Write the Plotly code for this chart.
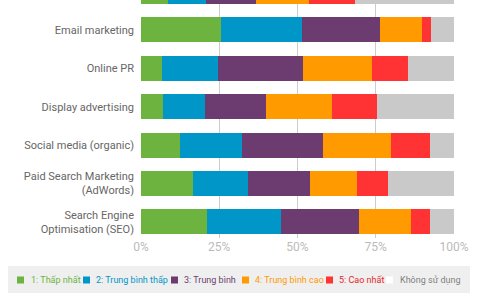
import plotly.graph_objects as go

categories = ["Search Engine<br>Optimisation (SEO)", "Paid Search Marketing<br>(AdWords)",
              "Social media (organic)", "Display advertising", "Online PR",
              "Email marketing", "Content marketing"]
series_names = ["1: Thấp nhất", "2: Trung bình thấp", "3: Trung bình",
                "4: Trung bình cao", "5: Cao nhất", "Không sử dụng"]
values = {
    "1: Thấp nhất":       [21.0, 16.5, 12.3, 6.9, 6.7, 25.7, 8.6],
    "2: Trung bình thấp": [23.7, 17.8, 20.0, 13.6, 18.0, 25.7, 12.3],
    "3: Trung bình":      [25.1, 19.6, 25.8, 19.5, 27.1, 24.8, 15.8],
    "4: Trung bình cao":  [16.4, 15.0, 21.8, 21.1, 21.9, 13.5, 16.9],
    "5: Cao nhất":        [6.0, 10.0, 12.3, 14.2, 11.6, 2.9, 14.8],
    "Không sử dụng":      [7.8, 21.1, 7.8, 24.7, 14.7, 7.4, 31.6],
}
tick_vals = [0, 25, 50, 75, 100]
tick_text = ["0%", "25%", "50%", "75%", "100%"]

colors = ["#6db33f", "#0096c8", "#6c3b6f", "#ff9a00", "#ff3333", "#c9c9c9"]
legend_text_colors = ["#6db33f", "#0096c8", "#6c3b6f", "#ff9a00", "#e8262a", "#808080"]
legend_marker_colors = ["#6db33f", "#0096c8", "#6c3b6f", "#ff9a00", "#ff3333", "#ffffff"]

FONT = "Roboto, sans-serif"

# layout geometry (pixels)
W, H = 480, 300
ML, MR, MT, MB = 141, 26, 0, 62
PW, PH = W - ML - MR, H - MT - MB


def px_x(px):
    return (px - ML) / PW


def px_y(py):
    return (H - MB - py) / PH


legend_square_x = [17, 83, 171, 242, 326, 386]
legend_text_x = [29, 94, 182, 253, 336.5, 397.5]
legend_y = 280

fig = go.Figure()
for i, name in enumerate(series_names):
    fig.add_trace(go.Bar(
        y=categories, x=values[name], orientation="h",
        name=name, marker=dict(color=colors[i], line=dict(width=0)),
        showlegend=False,
    ))

shapes = [dict(type="rect", xref="paper", yref="paper",
               x0=px_x(8), x1=px_x(470), y0=px_y(266), y1=px_y(293),
               fillcolor="#efefef", line=dict(width=0), layer="below")]
annotations = []
for i, name in enumerate(series_names):
    sx = legend_square_x[i]
    shapes.append(dict(type="rect", xref="paper", yref="paper",
                       x0=px_x(sx), x1=px_x(sx + 7),
                       y0=px_y(legend_y - 3.5), y1=px_y(legend_y + 3.5),
                       fillcolor=legend_marker_colors[i], line=dict(width=0)))
    annotations.append(dict(text=name, xref="paper", yref="paper",
                            x=px_x(legend_text_x[i]), y=px_y(legend_y),
                            xanchor="left", yanchor="middle", showarrow=False,
                            font=dict(family=FONT, size=9, color=legend_text_colors[i])))

fig.update_layout(
    barmode="stack",
    bargap=0.35,
    width=W, height=H,
    margin=dict(l=ML, r=MR, t=MT, b=MB, autoexpand=False),
    showlegend=False,
    paper_bgcolor="white", plot_bgcolor="white",
    font=dict(family=FONT, color="#666666", size=11),
    xaxis=dict(range=[0, 100], tickvals=tick_vals, ticktext=tick_text,
               showgrid=True, gridcolor="#cccccc", gridwidth=1, zeroline=False,
               tickfont=dict(color="#bbbbbb", size=12), fixedrange=True),
    yaxis=dict(range=[-0.42, 5.78], showgrid=False, zeroline=False,
               ticklabelstandoff=6,
               tickfont=dict(color="#666666", size=11), fixedrange=True),
    shapes=shapes,
    annotations=annotations,
)

fig.write_html("out.html")
